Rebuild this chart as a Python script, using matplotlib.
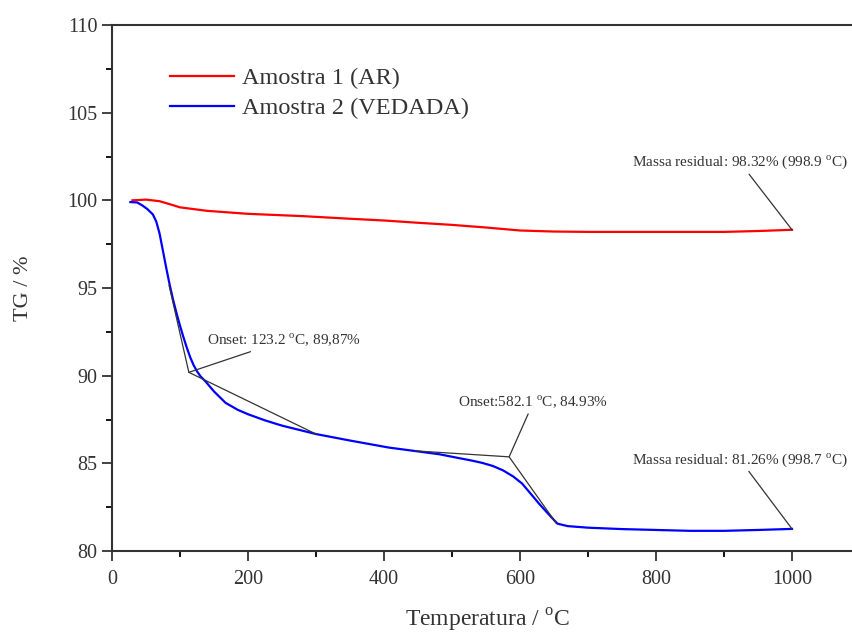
import matplotlib.pyplot as plt
from matplotlib.ticker import MultipleLocator

plt.rcParams['font.family'] = 'Liberation Serif'
plt.rcParams['mathtext.fontset'] = 'custom'
plt.rcParams['mathtext.rm'] = 'Liberation Serif'

# amostra 1 (AR)
t1 = [30, 50, 70, 85, 100, 140, 200, 280, 350, 400, 450, 500, 550, 600, 650, 700, 800, 900, 950, 1000]
tg1 = [100.0, 100.04, 99.95, 99.78, 99.6, 99.4, 99.23, 99.1, 98.95, 98.85, 98.72, 98.6, 98.45, 98.28, 98.22, 98.2, 98.2, 98.2, 98.25, 98.32]
# amostra 2 (VEDADA)
t2 = [27, 37, 45, 52, 60, 65, 70, 75, 80, 85, 90, 95, 100, 105, 110, 115, 120, 125, 130, 138, 150, 167, 185, 200,
      225, 250, 300, 350, 407, 481, 510, 530, 545, 560, 575, 590, 603, 615, 628, 642, 655, 670, 700, 750, 800, 850,
      900, 950, 1000]
tg2 = [99.9, 99.88, 99.7, 99.5, 99.2, 98.8, 98.1, 97.1, 96.1, 95.15, 94.3, 93.55, 92.85, 92.2, 91.6, 91.05, 90.6,
       90.25, 89.97, 89.65, 89.1, 88.45, 88.05, 87.8, 87.45, 87.15, 86.67, 86.3, 85.9, 85.52, 85.3, 85.15, 85.02,
       84.85, 84.6, 84.25, 83.85, 83.3, 82.7, 82.1, 81.56, 81.42, 81.33, 81.25, 81.2, 81.15, 81.15, 81.2, 81.26]

labels = ['Amostra 1 (AR)', 'Amostra 2 (VEDADA)']

# tangentes do onset
tan1_x = [84, 113, 300]
tan1_y = [95.14, 90.19, 86.67]
tan2_x = [446, 584, 653]
tan2_y = [85.71, 85.37, 81.6]

fig = plt.figure(figsize=(8.52, 6.33), dpi=100)
ax = fig.add_axes([112/852, 82/633, 748/852, 526/633])

ax.plot(t1, tg1, color='red', lw=1.6, label=labels[0])
ax.plot(t2, tg2, color='blue', lw=1.6, label=labels[1])
ax.plot(tan1_x, tan1_y, color='#333333', lw=0.9)
ax.plot(tan2_x, tan2_y, color='#333333', lw=0.9)

ax.set_xlim(0, 1100)
ax.set_ylim(80, 110)
ax.xaxis.set_major_locator(MultipleLocator(200))
ax.xaxis.set_minor_locator(MultipleLocator(100))
ax.yaxis.set_major_locator(MultipleLocator(5))
ax.yaxis.set_minor_locator(MultipleLocator(2.5))
ax.tick_params(which='major', direction='out', length=7, width=1.3, labelsize=14.5, colors='#333333')
ax.tick_params(axis='x', which='major', pad=7)
ax.tick_params(which='minor', direction='out', length=4, width=1.3)
for s in ax.spines.values():
    s.set_linewidth(1.5)
    s.set_color('#333333')

fig.text(487/852, 1 - 620/633, r'Temperatura / $^{\mathrm{o}}$C', fontsize=17, color='#333333', ha='center', va='center')
ax.set_ylabel('TG / %', fontsize=16, color='#333333')
ax.yaxis.set_label_coords(-0.105, 0.5)

leg = ax.legend(loc='upper left', bbox_to_anchor=(170/852, 1 - 67/633), bbox_transform=fig.transFigure,
                frameon=False, fontsize=17.5, handlelength=2.65, handletextpad=0.3, labelspacing=0.33,
                borderpad=0, borderaxespad=0)
for tx in leg.get_texts():
    tx.set_color('#333333')

ann = dict(fontsize=11, color='#333333')
ax.annotate(r'Onset: 123.2 $^{\mathrm{o}}$C, 89,87%', xy=(113, 90.19), xytext=(140, 91.75),
            arrowprops=dict(arrowstyle='-', color='#333333', lw=0.9, shrinkA=0, shrinkB=0), **ann)
ax.annotate(r'Onset:582.1 $^{\mathrm{o}}$C, 84.93%', xy=(584, 85.37), xytext=(509, 88.2),
            arrowprops=dict(arrowstyle='-', color='#333333', lw=0.9, shrinkA=0, shrinkB=0), **ann)
ax.annotate(r'Massa residual: 98.32% (998.9 $^{\mathrm{o}}$C)', xy=(1000, 98.32), xytext=(765, 101.95),
            arrowprops=dict(arrowstyle='-', color='#333333', lw=0.9, shrinkA=0, shrinkB=0), **ann)
ax.annotate(r'Massa residual: 81.26% (998.7 $^{\mathrm{o}}$C)', xy=(1000, 81.26), xytext=(765, 85.0),
            arrowprops=dict(arrowstyle='-', color='#333333', lw=0.9, shrinkA=0, shrinkB=0), **ann)

fig.savefig('out.png', dpi=100)
